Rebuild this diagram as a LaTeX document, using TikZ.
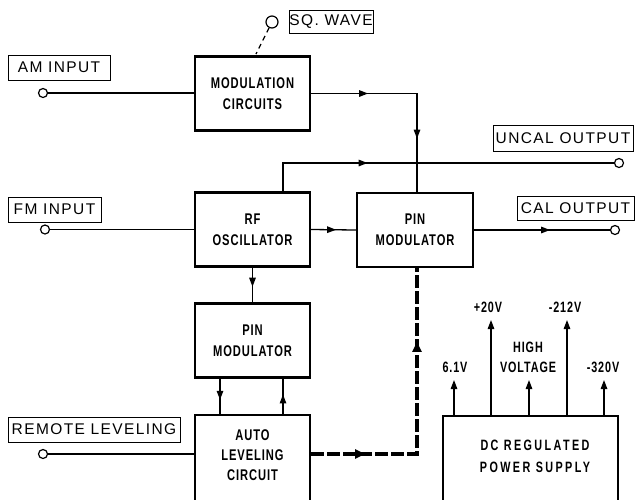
\documentclass[tikz,border=0pt]{standalone}
\usepackage{fontspec}
\setmainfont{Liberation Sans}
\newfontfamily\labfont{Liberation Sans}[LetterSpace=9]
\newfontfamily\boxfont{Liberation Sans}[FakeStretch=0.72,LetterSpace=6]
\newfontfamily\widefont{Liberation Sans}[FakeStretch=0.72,LetterSpace=16]
\usetikzlibrary{arrows.meta,decorations.markings,calc}
\tikzset{
  blk/.style={draw, line width=2.2pt, minimum width=115pt, minimum height=74pt, inner sep=0pt, align=center,
    font=\boxfont\bfseries\fontsize{15.5}{21}\selectfont},
  btext/.style={inner sep=0pt, align=center, font=\boxfont\bfseries\fontsize{15.5}{20}\selectfont},
  lab/.style={draw, line width=1pt, inner sep=0pt, minimum height=25pt, font=\labfont\fontsize{15.5}{18}\selectfont},
  term/.style={draw, circle, line width=1.2pt, minimum size=9pt, inner sep=0pt, fill=white},
  wire/.style={line width=1.3pt},
  arrat/.style={postaction={decorate,decoration={markings,mark=at position #1 with {\arrow{Triangle[length=9pt,width=6.5pt]}}}}},
  bigarrat/.style={postaction={decorate,decoration={markings,mark=at position #1 with {\arrow{Triangle[length=10pt,width=9pt]}}}}},
  thickdash/.style={line width=3.2pt, dash pattern=on 13pt off 3pt},
  volt/.style={inner sep=0pt, align=center, anchor=south, font=\boxfont\bfseries\fontsize{15}{20}\selectfont},
  uparrow/.style={wire, -{Triangle[length=9pt,width=6.5pt]}}
}
\begin{document}
\begin{tikzpicture}[x=1pt,y=-1pt]
\useasboundingbox (0,0) rectangle (635,499);
\clip (0,0) rectangle (635,499);

% main blocks
\node[blk] (mod) at (252.5,93.5) {MODULATION\\CIRCUITS};
\node[blk] (rf) at (252.5,229.5) {RF\\OSCILLATOR};
\node[blk, minimum width=116pt] (pin) at (415,230) {PIN\\MODULATOR};
\node[blk] (pin2) at (252.5,340.5) {PIN\\MODULATOR};
\node[blk, minimum height=92pt] (alc) at (252.5,461) {};
\node[btext] (alct) at (252.5,455) {AUTO\\LEVELING\\CIRCUIT};
\node[blk, minimum width=175pt, minimum height=92pt] (dc) at (530.5,462) {};
\node[inner sep=0pt, align=center, font=\widefont\bfseries\fontsize{15}{22}\selectfont] (dct) at (535,456) {DC REGULATED\\POWER SUPPLY};

% labels
\node[lab, minimum width=102pt] (aml) at (59,67.5) {AM INPUT};
\node[lab, minimum width=93pt] (fml) at (54.5,209.5) {FM INPUT};
\node[lab, minimum width=172pt] (rll) at (94,429.5) {REMOTE LEVELING};
\node[lab, minimum width=140pt, minimum height=26pt] (ucl) at (563,138) {UNCAL OUTPUT};
\node[lab, minimum width=117pt, minimum height=24pt] (cll) at (575.5,208) {CAL OUTPUT};
\node[lab, minimum width=84pt, minimum height=23pt] (sql) at (331,21.5) {SQ. WAVE};

% terminals
\node[term] (amc) at (43,93) {};
\node[term] (fmc) at (45,229.5) {};
\node[term] (rlc) at (43,454) {};
\node[term] (ucc) at (619,163) {};
\node[term] (clc) at (615,230) {};
\node[term, minimum size=12pt] (sqc) at (272,22) {};

% connectors
\coordinate (sqend) at (256,54);
\draw[wire, dash pattern=on 5pt off 4pt] (sqc) -- (sqend);
\draw[wire] (amc) -- (mod.west |- amc);
\coordinate (c1) at (417,93.5);
\draw[wire, arrat=57pt, arrat=151pt] (mod.east) -- (c1) -- (c1 |- pin.north);
\draw[wire] (fmc) -- (rf.west);
\draw[wire, arrat=25pt] (rf.east) -- (pin.west);
\coordinate (c2) at (283,163);
\draw[wire, arrat=113pt] (c2 |- rf.north) -- (c2) -- (ucc);
\draw[wire, arrat=76pt] (pin.east) -- (clc);
\draw[wire, arrat=0.55] (rf.south) -- (pin2.north);
\coordinate (d1) at (220,400);
\coordinate (d2) at (283,400);
\draw[wire, arrat=0.6] (d1 |- pin2.south) -- (d1 |- alc.north);
\draw[wire, arrat=0.55] (d2 |- alc.north) -- (d2 |- pin2.south);
\draw[wire] (rlc) -- (alc.west |- rlc);
\coordinate (c3) at (417,454);
\draw[thickdash, bigarrat=54pt, bigarrat=218pt] (alc.east |- c3) -- (c3) -- (c3 |- pin.south);

% power supply outputs
\coordinate (v1) at (454,380);
\coordinate (v2) at (491,320);
\coordinate (v3) at (529,380);
\coordinate (v4) at (567,320);
\coordinate (v5) at (604,380);
\draw[uparrow] (v1 |- dc.north) -- (v1);
\draw[uparrow] (v2 |- dc.north) -- (v2);
\draw[uparrow] (v3 |- dc.north) -- (v3);
\draw[uparrow] (v4 |- dc.north) -- (v4);
\draw[uparrow] (v5 |- dc.north) -- (v5);
\node[volt] (t1) at (455,373) {6.1V};
\node[volt] (t2) at (488,313) {+20V};
\node[volt] (t3) at (528,373) {HIGH\\VOLTAGE};
\node[volt] (t4) at (565,313) {-212V};
\node[volt] (t5) at (603,373) {-320V};
\end{tikzpicture}
\end{document}
